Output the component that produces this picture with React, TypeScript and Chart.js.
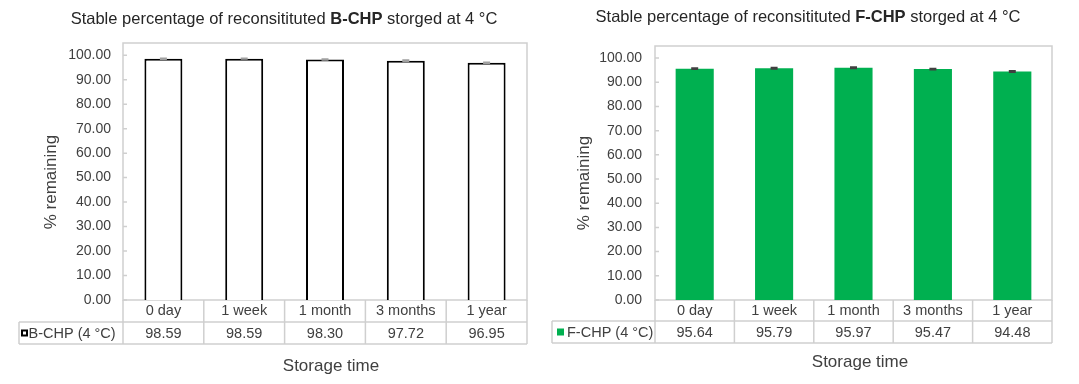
import React, { useEffect, useRef } from "react";
import { Chart, registerables } from "chart.js";

Chart.register(...registerables);

// ---------- data ----------
const categories = ["0 day", "1 week", "1 month", "3 months", "1 year"];
const bchpValues = [98.59, 98.59, 98.3, 97.72, 96.95];
const bchpErrors = [0.2, 0.15, 0.2, 0.3, 0.2];
const fchpValues = [95.64, 95.79, 95.97, 95.47, 94.48];
const fchpErrors = [0.25, 0.3, 0.3, 0.25, 0.3];
const bchpSeriesName = "B-CHP (4 °C)";
const fchpSeriesName = "F-CHP (4 °C)";
const yTickValues = [0, 10, 20, 30, 40, 50, 60, 70, 80, 90, 100];
const yAxisMin = 0;
const yAxisMax = 105;
const yAxisTitle = "% remaining";
const xAxisTitle = "Storage time";

// ---------- styles ----------
const FF = "'Liberation Sans', Arial, Helvetica, sans-serif";
const TEXT = "#404040";
const TITLE = "#262626";
const LINE = "#cfcfcf";

type PanelCfg = {
  width: number;
  left: number;
  values: number[];
  errors: number[];
  seriesName: string;
  boldName: string;
  fill: string;
  border: string;
  borderWidth: number;
  errColor: string;
  plotLeft: number;
  plotRight: number;
  plotTop: number;
  plotBottom: number;
  tableLeft: number;
  keyX: number;
  keySize: number;
  keyTextX: number;
  row1H: number;
  row2H: number;
  titleX: number;
  titleY: number;
  yTitleX: number;
  yTitleY: number;
  xTitleX: number;
  xTitleY: number;
  tickPad: number;
  barPct: number;
};

const H = 384;

function makePlugin(cfg: PanelCfg) {
  return {
    id: "decor",
    beforeDatasetsDraw(chart: any) {
      const ctx = chart.ctx;
      const { left, right, top, bottom } = chart.chartArea;
      ctx.save();
      ctx.strokeStyle = LINE;
      ctx.lineWidth = 1.5;
      ctx.strokeRect(left, top, right - left, bottom - top);
      // inner tick marks
      const y = chart.scales.y;
      ctx.beginPath();
      y.ticks.forEach((t: any) => {
        const py = y.getPixelForValue(t.value);
        ctx.moveTo(left, py);
        ctx.lineTo(left + 4, py);
      });
      ctx.stroke();
      ctx.restore();
    },
    afterDatasetsDraw(chart: any) {
      const ctx = chart.ctx;
      const { left, right, bottom } = chart.chartArea;
      const x = chart.scales.x;
      const y = chart.scales.y;
      const meta = chart.getDatasetMeta(0);
      ctx.save();
      // error bars
      ctx.strokeStyle = cfg.errColor;
      ctx.lineWidth = 1.5;
      meta.data.forEach((bar: any, i: number) => {
        const v = cfg.values[i];
        const e = cfg.errors[i];
        const yTop = y.getPixelForValue(v + e);
        const yBot = y.getPixelForValue(v - e);
        ctx.beginPath();
        ctx.moveTo(bar.x, yTop);
        ctx.lineTo(bar.x, yBot);
        ctx.moveTo(bar.x - 3.5, yTop);
        ctx.lineTo(bar.x + 3.5, yTop);
        ctx.moveTo(bar.x - 3.5, yBot);
        ctx.lineTo(bar.x + 3.5, yBot);
        ctx.stroke();
      });

      // data table
      const n = categories.length;
      const bounds: number[] = [];
      for (let i = 0; i <= n; i++) {
        if (i === 0) bounds.push(left);
        else if (i === n) bounds.push(right);
        else bounds.push((x.getPixelForTick(i - 1) + x.getPixelForTick(i)) / 2);
      }
      const r1Bottom = bottom + cfg.row1H;
      const r2Bottom = r1Bottom + cfg.row2H;
      ctx.strokeStyle = LINE;
      ctx.lineWidth = 1.5;
      ctx.beginPath();
      ctx.moveTo(cfg.tableLeft, r1Bottom);
      ctx.lineTo(right, r1Bottom);
      ctx.moveTo(cfg.tableLeft, r2Bottom);
      ctx.lineTo(right, r2Bottom);
      bounds.forEach((bx) => {
        ctx.moveTo(bx, bottom);
        ctx.lineTo(bx, r2Bottom);
      });
      ctx.moveTo(cfg.tableLeft, r1Bottom);
      ctx.lineTo(cfg.tableLeft, r2Bottom);
      ctx.stroke();

      // values row
      const rowMid = (r1Bottom + r2Bottom) / 2;
      ctx.fillStyle = TEXT;
      ctx.font = `14.5px ${FF}`;
      ctx.textAlign = "center";
      ctx.textBaseline = "middle";
      cfg.values.forEach((v, i) => {
        ctx.fillText(v.toFixed(2), x.getPixelForTick(i), rowMid + 1);
      });
      // legend key
      const ks = cfg.keySize;
      if (cfg.borderWidth > 0) {
        ctx.fillStyle = cfg.fill;
        ctx.fillRect(cfg.keyX, rowMid - ks / 2, ks, ks);
        ctx.strokeStyle = cfg.border;
        ctx.lineWidth = 2;
        ctx.strokeRect(cfg.keyX + 1, rowMid - ks / 2 + 1, ks - 2, ks - 2);
      } else {
        ctx.fillStyle = cfg.fill;
        ctx.fillRect(cfg.keyX, rowMid - ks / 2, ks, ks);
      }
      ctx.fillStyle = TEXT;
      ctx.textAlign = "left";
      ctx.fillText(cfg.seriesName, cfg.keyTextX, rowMid + 1);

      // chart title (mixed weight)
      const parts: [string, boolean][] = [
        ["Stable percentage of reconsitituted ", false],
        [cfg.boldName, true],
        [" storged at 4 °C", false],
      ];
      const fontFor = (b: boolean) => `${b ? "bold " : ""}16.5px ${FF}`;
      let total = 0;
      parts.forEach(([s, b]) => {
        ctx.font = fontFor(b);
        total += ctx.measureText(s).width;
      });
      let cx = cfg.titleX - total / 2;
      ctx.fillStyle = TITLE;
      ctx.textBaseline = "middle";
      parts.forEach(([s, b]) => {
        ctx.font = fontFor(b);
        ctx.fillText(s, cx, cfg.titleY);
        cx += ctx.measureText(s).width;
      });

      // axis titles
      ctx.fillStyle = TEXT;
      ctx.font = `17px ${FF}`;
      ctx.textAlign = "center";
      ctx.fillText(xAxisTitle, cfg.xTitleX, cfg.xTitleY);
      ctx.save();
      ctx.translate(cfg.yTitleX, cfg.yTitleY);
      ctx.rotate(-Math.PI / 2);
      ctx.fillText(yAxisTitle, 0, 0);
      ctx.restore();

      ctx.restore();
    },
  };
}

function Panel({ cfg }: { cfg: PanelCfg }) {
  const ref = useRef<HTMLCanvasElement | null>(null);
  useEffect(() => {
    if (!ref.current) return;
    const chart = new Chart(ref.current, {
      type: "bar",
      data: {
        labels: categories,
        datasets: [
          {
            label: cfg.seriesName,
            data: cfg.values,
            backgroundColor: cfg.fill,
            borderColor: cfg.border,
            borderWidth: cfg.borderWidth,
            borderSkipped: "bottom",
            barPercentage: cfg.barPct,
            categoryPercentage: 1,
          },
        ],
      },
      options: {
        responsive: false,
        animation: false,
        devicePixelRatio: 1,
        layout: {
          padding: {
            left: 0,
            top: cfg.plotTop,
            right: cfg.width - cfg.plotRight,
            bottom: H - cfg.plotBottom - cfg.row1H,
          },
        },
        plugins: {
          legend: { display: false },
          tooltip: { enabled: false },
          title: { display: false },
        },
        scales: {
          x: {
            offset: true,
            grid: { display: false, drawTicks: false },
            border: { display: false },
            ticks: {
              color: TEXT,
              font: { family: FF, size: 14.5 },
              padding: 2,
              maxRotation: 0,
              autoSkip: false,
            },
            afterFit: (s: any) => {
              s.height = cfg.row1H;
            },
          },
          y: {
            min: yAxisMin,
            max: yAxisMax,
            grid: { display: false, drawTicks: false },
            border: { display: false },
            ticks: {
              color: TEXT,
              font: { family: FF, size: 14 },
              padding: cfg.tickPad,
              callback: (v: any) => Number(v).toFixed(2),
            },
            afterBuildTicks: (s: any) => {
              s.ticks = yTickValues.map((v) => ({ value: v }));
            },
            afterFit: (s: any) => {
              s.width = cfg.plotLeft;
            },
          },
        },
      },
      plugins: [makePlugin(cfg)],
    } as any);
    return () => chart.destroy();
  }, [cfg]);
  return (
    <canvas
      ref={ref}
      width={cfg.width}
      height={H}
      style={{ position: "absolute", left: cfg.left, top: 0, width: cfg.width, height: H }}
    />
  );
}

const leftCfg: PanelCfg = {
  width: 540,
  left: 0,
  values: bchpValues,
  errors: bchpErrors,
  seriesName: bchpSeriesName,
  boldName: "B-CHP",
  fill: "#ffffff",
  border: "#000000",
  borderWidth: 2,
  errColor: "#a0a0a0",
  plotLeft: 123,
  plotRight: 527,
  plotTop: 43,
  plotBottom: 300,
  tableLeft: 19,
  keyX: 21,
  keySize: 7,
  keyTextX: 28.5,
  row1H: 22,
  row2H: 22,
  titleX: 284,
  titleY: 19,
  yTitleX: 51,
  yTitleY: 182,
  xTitleX: 331,
  xTitleY: 366,
  tickPad: 12,
  barPct: 0.47,
};

const rightCfg: PanelCfg = {
  width: 539,
  left: 540,
  values: fchpValues,
  errors: fchpErrors,
  seriesName: fchpSeriesName,
  boldName: "F-CHP",
  fill: "#00b050",
  border: "#00b050",
  borderWidth: 0,
  errColor: "#404040",
  plotLeft: 115,
  plotRight: 512,
  plotTop: 46,
  plotBottom: 300,
  tableLeft: 12,
  keyX: 17,
  keySize: 7,
  keyTextX: 27,
  row1H: 21,
  row2H: 22,
  titleX: 268,
  titleY: 17,
  yTitleX: 44,
  yTitleY: 183,
  xTitleX: 320,
  xTitleY: 362,
  tickPad: 13,
  barPct: 0.48,
};

export default function App() {
  return (
    <div
      style={{
        position: "absolute",
        left: 0,
        top: 0,
        width: 1079,
        height: H,
        background: "#ffffff",
        overflow: "hidden",
      }}
    >
      <Panel cfg={leftCfg} />
      <Panel cfg={rightCfg} />
    </div>
  );
}
